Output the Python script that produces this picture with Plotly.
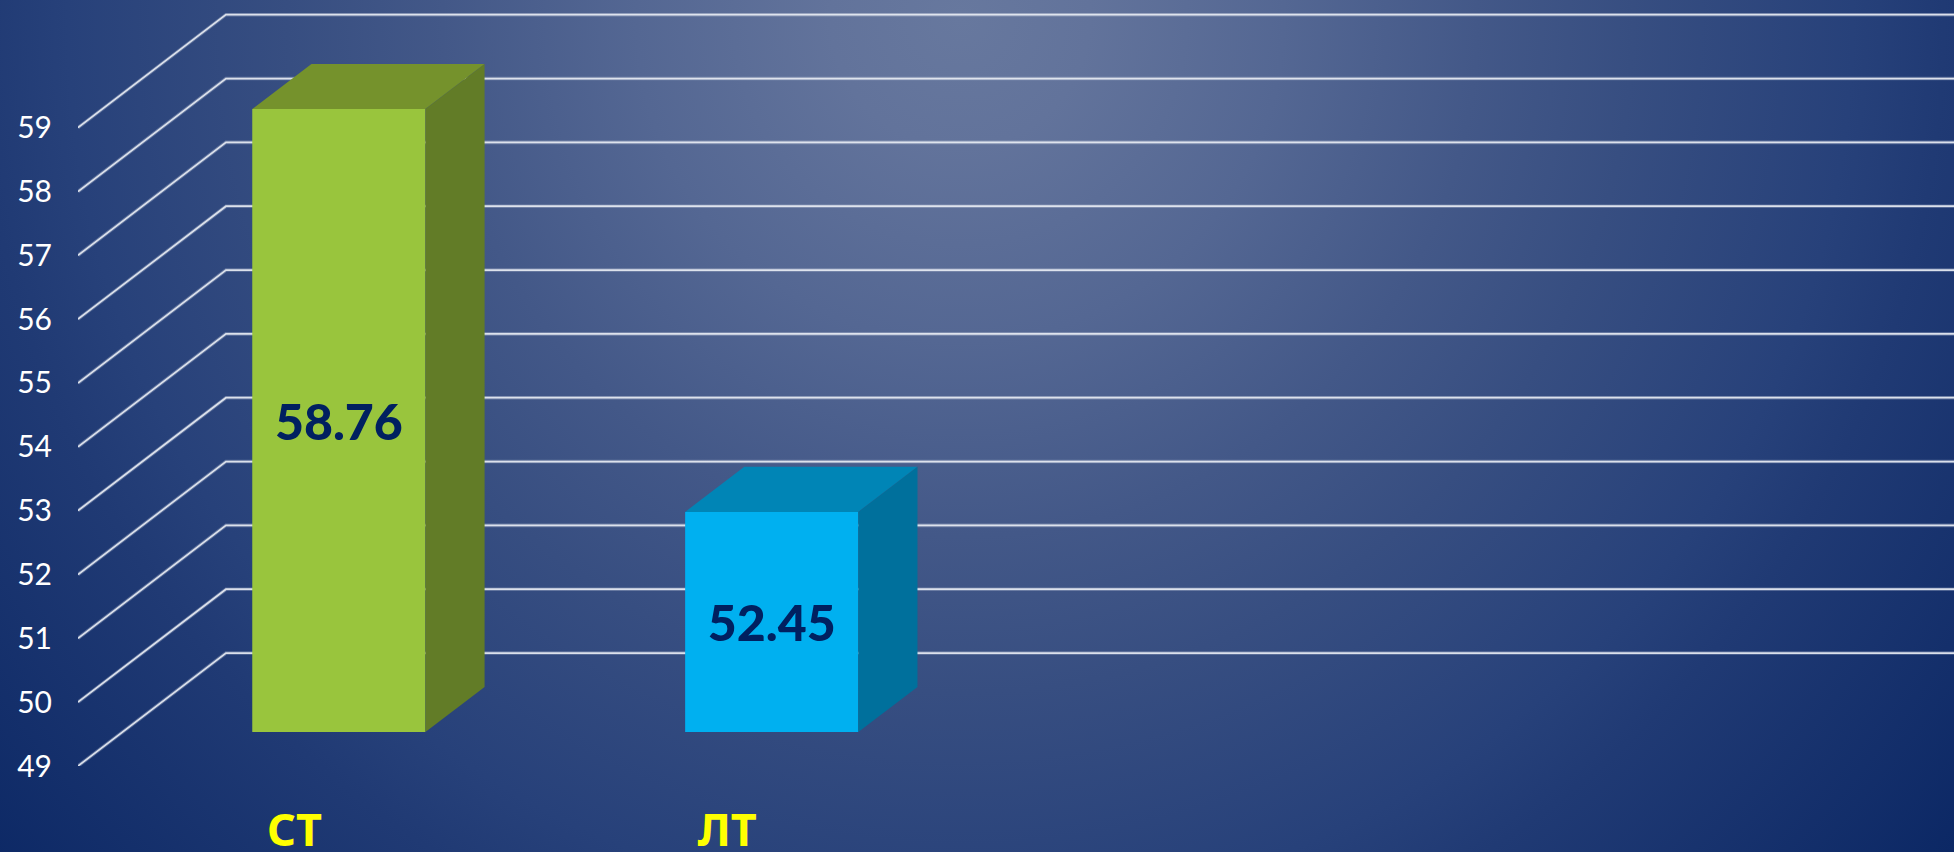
import base64
import plotly.graph_objects as go

categories = ["СТ", "ЛТ"]
values = [58.76, 52.45]
value_labels = ["58.76", "52.45"]
slot_positions = [0, 1]
y_ticks = [49, 50, 51, 52, 53, 54, 55, 56, 57, 58, 59]

front_colors = ["#99C53D", "#00B0F0"]
top_colors = ["#75922C", "#0085B6"]
side_colors = ["#627C27", "#00709C"]

W, H = 1954, 852
ML, MB = 77.5, 85.7
PX_PER_CAT = 433.0
PX_PER_VAL = 63.86
Y_MIN = 49
X_MIN = -0.5
NUM_SLOTS = 4
BAR_WIDTH = 0.4
DX = 148 / PX_PER_CAT
DY = 113 / PX_PER_VAL
D_FRONT, D_BACK = 0.3, 0.7

x_range = [X_MIN, X_MIN + (W - ML) / PX_PER_CAT]
y_range = [Y_MIN, Y_MIN + (H - MB) / PX_PER_VAL]


def proj(c, v, d):
    return c + d * DX, v + d * DY


fig = go.Figure()

fig.add_trace(go.Bar(
    x=[c + D_FRONT * DX for c in slot_positions],
    y=[v - Y_MIN for v in values],
    base=Y_MIN + D_FRONT * DY,
    width=BAR_WIDTH,
    marker=dict(color=front_colors, line=dict(width=0)),
    text=value_labels,
    textposition="inside",
    insidetextanchor="middle",
    textangle=0,
    insidetextfont=dict(family="Lato", size=50, color="#002060", weight=900),
    cliponaxis=False,
    showlegend=False,
    hoverinfo="skip",
))

for c, v, tc, sc in zip(slot_positions, values, top_colors, side_colors):
    l, r = c - BAR_WIDTH / 2, c + BAR_WIDTH / 2
    top = [proj(l, v, D_FRONT), proj(r, v, D_FRONT), proj(r, v, D_BACK), proj(l, v, D_BACK)]
    side = [proj(r, v, D_FRONT), proj(r, v, D_BACK), proj(r, Y_MIN, D_BACK), proj(r, Y_MIN, D_FRONT)]
    for poly, col in ((top, tc), (side, sc)):
        xs, ys = zip(*(poly + poly[:1]))
        fig.add_trace(go.Scatter(
            x=xs, y=ys, mode="lines", fill="toself", fillcolor=col,
            line=dict(width=0), showlegend=False, hoverinfo="skip",
        ))

shapes = []
x_left = X_MIN
x_right = X_MIN + NUM_SLOTS + DX
for t in y_ticks:
    fx, fy = proj(x_left, t, 0)
    bx, by = proj(x_left, t, 1)
    path = f"M {fx} {fy} L {bx} {by} L {x_right} {by}"
    for width, col in ((3.6, "rgba(225,230,240,0.28)"), (1.7, "rgba(230,234,242,0.92)")):
        shapes.append(dict(type="path", path=path, xref="x", yref="y", layer="below",
                           line=dict(color=col, width=width)))

BLEED = 3
svg = f'''<svg xmlns="http://www.w3.org/2000/svg" width="{W}" height="{H}" viewBox="0 0 {W} {H}" preserveAspectRatio="none">
<defs><radialGradient id="g" gradientUnits="userSpaceOnUse" cx="960" cy="20" r="1290">
<stop offset="0" stop-color="#67789E"/>
<stop offset="0.10" stop-color="#62739B"/>
<stop offset="0.25" stop-color="#546793"/>
<stop offset="0.40" stop-color="#435888"/>
<stop offset="0.52" stop-color="#374E81"/>
<stop offset="0.69" stop-color="#27417A"/>
<stop offset="0.76" stop-color="#203A74"/>
<stop offset="1" stop-color="#0C2865"/>
</radialGradient></defs>
<rect width="{W}" height="{H}" fill="url(#g)"/></svg>'''
bg = "data:image/svg+xml;base64," + base64.b64encode(svg.encode()).decode()

plot_w, plot_h = W - ML, H - MB
fig.update_layout(
    width=W, height=H, autosize=False,
    margin=dict(l=ML, r=0, t=0, b=MB, pad=0),
    paper_bgcolor="rgba(0,0,0,0)", plot_bgcolor="rgba(0,0,0,0)",
    barmode="overlay", showlegend=False,
    shapes=shapes,
    images=[dict(source=bg, xref="paper", yref="paper", x=-(ML + BLEED) / plot_w, y=1 + BLEED / plot_h,
                 sizex=(W + 2 * BLEED) / plot_w, sizey=(H + 2 * BLEED) / plot_h, xanchor="left", yanchor="top",
                 sizing="stretch", layer="below")],
    xaxis=dict(range=x_range, tickmode="array", tickvals=slot_positions, ticktext=categories,
               showgrid=False, zeroline=False, showline=False, ticks="", automargin=False,
               ticklabelstandoff=34,
               tickfont=dict(family="Noto Sans", size=45, color="#FFFF00", weight=700)),
    yaxis=dict(range=y_range, tickmode="array", tickvals=y_ticks,
               showgrid=False, zeroline=False, showline=False, ticks="", automargin=False,
               ticklabelstandoff=25,
               tickfont=dict(family="Lato", size=30, color="#FFFFFF")),
)

fig.write_html("out.html", config={"displayModeBar": False},
               post_script="document.documentElement.style.margin='0';document.body.style.margin='0';document.body.style.overflow='hidden';document.body.style.background='#0C2865';")
